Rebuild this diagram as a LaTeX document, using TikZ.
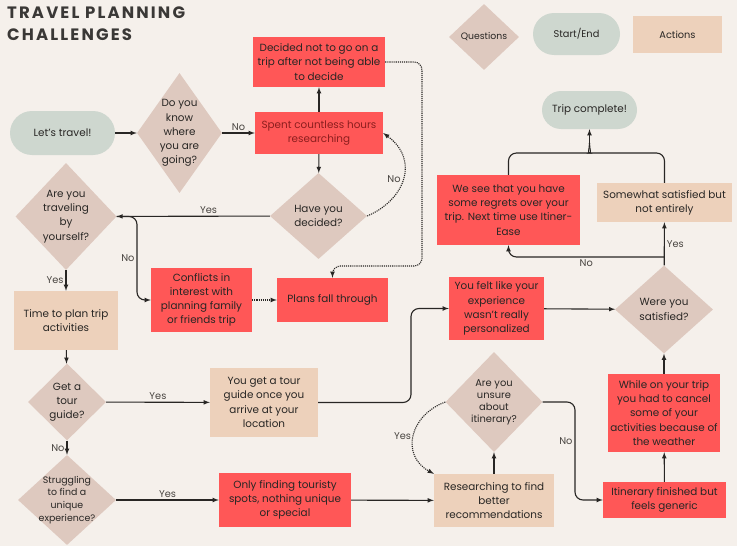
\documentclass[tikz,border=0pt]{standalone}
\usepackage{fontspec}
\setmainfont{Poppins}
\newfontfamily\titlefont[LetterSpace=13]{Poppins}
\usepackage{tikz}
\usetikzlibrary{positioning}
\usetikzlibrary{shapes.geometric}
\usetikzlibrary{arrows.meta}
\definecolor{bgcol}{RGB}{245,240,235}
\definecolor{redcol}{RGB}{255,87,87}
\definecolor{qcol}{RGB}{222,201,191}
\definecolor{termcol}{RGB}{206,215,207}
\definecolor{actcol}{RGB}{237,209,187}
\definecolor{txtcol}{RGB}{40,38,36}
\definecolor{lblcol}{RGB}{72,68,64}
\definecolor{darkred}{RGB}{140,30,30}
\definecolor{titlecol}{RGB}{58,56,54}
\tikzset{>=latex}
\tikzset{
  every node/.style={font=\fontsize{10.4}{14.2}\selectfont},
  act/.style={rectangle, fill=actcol, text=txtcol, align=center, inner sep=1pt},
  warn/.style={rectangle, fill=redcol, text=txtcol, align=center, inner sep=1pt},
  term/.style={rectangle, fill=termcol, text=txtcol, align=center},
  ques/.style={diamond, fill=qcol, inner sep=0pt},
  qtxt/.style={align=center, text=txtcol},
  lbl/.style={text=lblcol, font=\fontsize{9.8}{11}\selectfont, inner sep=2pt},
  wire/.style={line width=1.1pt, draw=txtcol},
  flow/.style={wire, ->},
  dflow/.style={flow, densely dotted},
}

\begin{document}
\begin{tikzpicture}[x=1pt,y=-1pt]

% Background
\fill[bgcol] (0,0) rectangle (737,546);
\useasboundingbox (0,0) rectangle (737,546);

% Title
\node[anchor=north west, align=left, inner sep=0pt, text=titlecol,
  font=\titlefont\bfseries\fontsize{16.5}{22}\selectfont] (title) at (7,7)
  {TRAVEL PLANNING\\CHALLENGES};

% Legend
\node[ques, minimum width=70, minimum height=66,
  label={[qtxt, font=\fontsize{9.3}{11}\selectfont]center:Questions}] (legq) at (484,37) {};
\node[term, minimum width=87, minimum height=42, rounded corners=21pt,
  font=\fontsize{9.8}{11}\selectfont] (legt) at (576.5,34) {Start/End};
\node[act, minimum width=89, minimum height=37,
  font=\fontsize{9.8}{11}\selectfont] (lega) at (677.5,34.5) {Actions};

% Start and end
\node[term, minimum width=105, minimum height=44, rounded corners=22pt] (start) at (62.5,133) {Let’s travel!};
\node[term, minimum width=95, minimum height=38, rounded corners=19pt] (done) at (589.5,110) {Trip complete!};

% Questions
\node[ques, minimum width=85, minimum height=120,
  label={[qtxt]center:Do you\\know\\where\\you are\\going?}] (know) at (179.5,133) {};
\node[ques, minimum width=97, minimum height=86,
  label={[qtxt]center:Have you\\decided?}] (decided) at (318.5,216) {};
\node[ques, minimum width=101, minimum height=107,
  label={[qtxt]center:Are you\\traveling\\by\\yourself?}] (alone) at (66,216.5) {};
\node[ques, minimum width=78, minimum height=77,
  label={[qtxt]center:Get a\\tour\\guide?}] (tour) at (67,402) {};
\node[ques, minimum width=98, minimum height=90,
  label={[qtxt, font=\fontsize{9.4}{12.8}\selectfont]center:Struggling\\to find a\\unique\\experience?}] (struggle) at (67,500) {};
\node[ques, minimum width=97, minimum height=100,
  label={[qtxt, font=\fontsize{9.9}{12}\selectfont]center:Are you\\unsure\\about\\itinerary?}] (unsure) at (494,402) {};
\node[ques, minimum width=98, minimum height=88,
  label={[qtxt]center:Were you\\satisfied?}] (satisfied) at (664,309.5) {};

% Actions
\node[warn, minimum width=128, minimum height=42, text=darkred] (spent) at (319,133) {Spent countless hours\\researching};
\node[warn, minimum width=132, minimum height=50] (quit) at (319,62) {Decided not to go on a\\trip after not being able\\to decide};
\node[warn, minimum width=101, minimum height=64] (conflict) at (201.5,300) {Conflicts in\\interest with\\planning family\\or friends trip};
\node[warn, minimum width=111, minimum height=44] (fall) at (332.5,300) {Plans fall through};
\node[act, minimum width=104, minimum height=59] (plan) at (66,320.5) {Time to plan trip\\activities};
\node[act, minimum width=108, minimum height=69] (guide) at (264,402.5) {You get a tour\\guide once you\\arrive at your\\location};
\node[warn, minimum width=132, minimum height=54] (tourist) at (285,500) {Only finding touristy\\spots, nothing unique\\or special};
\node[act, minimum width=120, minimum height=53] (research) at (494,500.5) {Researching to find\\better\\recommendations};
\node[warn, minimum width=123, minimum height=36] (generic) at (664.5,500) {Itinerary finished but\\feels generic};
\node[warn, minimum width=112, minimum height=78] (weather) at (664,413) {While on your trip\\you had to cancel\\some of your\\activities because of\\the weather};
\node[warn, minimum width=95, minimum height=63] (personal) at (496.5,308.5) {You felt like your\\experience\\wasn't really\\personalized};
\node[act, minimum width=135, minimum height=39] (somewhat) at (664.5,202.5) {Somewhat satisfied but\\not entirely};
\node[warn, minimum width=143, minimum height=70] (regrets) at (508.5,210) {We see that you have\\some regrets over your\\trip. Next time use Itiner-\\Ease};

% Bend points
\coordinate (fork) at (137,216.5);
\coordinate (satfork) at (664,257);
\coordinate (join) at (589.5,143);

% Connectors
\draw[flow] (start) -- (know);
\draw[flow] (know) -- node[lbl, above]{No} (spent);
\draw[flow] (spent) -- (quit);
\draw[flow] (spent) -- (decided);
\draw[dflow] (decided.east) .. controls (405,200) and (420,160) .. node[lbl, left]{No} (spent.east);
\draw[dflow, rounded corners=8pt] (quit.east) -- (422,62) -- (422,266) -| (fall.north);
\draw[flow] (decided) -- node[lbl, above, pos=0.4]{Yes} (alone);
\draw[flow, rounded corners=8pt] (alone.east) -- (fork) |- node[lbl, left, pos=0.25]{No} (conflict.west);
\draw[dflow] (conflict) -- (fall);
\draw[flow] (alone) -- node[lbl, left]{Yes} (plan);
\draw[flow] (plan) -- (tour);
\draw[flow] (tour) -- node[lbl, above]{Yes} (guide);
\draw[flow] (tour) -- node[lbl, left]{No} (struggle);
\draw[flow, rounded corners=8pt] (guide.east) -- (411,402.5) |- (personal.west);
\draw[flow] (struggle) -- node[lbl, above]{Yes} (tourist);
\draw[flow] (tourist) -- (research);
\draw[flow] (research) -- (unsure);
\draw[dflow] (unsure.west) .. controls (410,415) and (400,455) .. node[lbl, left]{Yes} (research.north west);
\draw[flow, rounded corners=8pt] (unsure.east) -- (575,402) |- node[lbl, left, pos=0.2]{No} (generic.west);
\draw[flow] (generic) -- (weather);
\draw[flow] (weather) -- (satisfied);
\draw[flow] (personal) -- (satisfied);
\draw[flow] (satisfied) -- node[lbl, right]{Yes} (somewhat);
\draw[flow, rounded corners=8pt] (satfork) -| node[lbl, below, pos=0.25]{No} (regrets.south);

% Bracket into the end
\draw[wire, rounded corners=8pt] (regrets.north) -- (508.5,153) -- (582,153) .. controls (587,153) and (589.5,150) .. (join);
\draw[wire, rounded corners=8pt] (somewhat.north) -- (664.5,153) -- (597,153) .. controls (592,153) and (589.5,150) .. (join);
\draw[flow] (join) -- (done);

\end{tikzpicture}
\end{document}
